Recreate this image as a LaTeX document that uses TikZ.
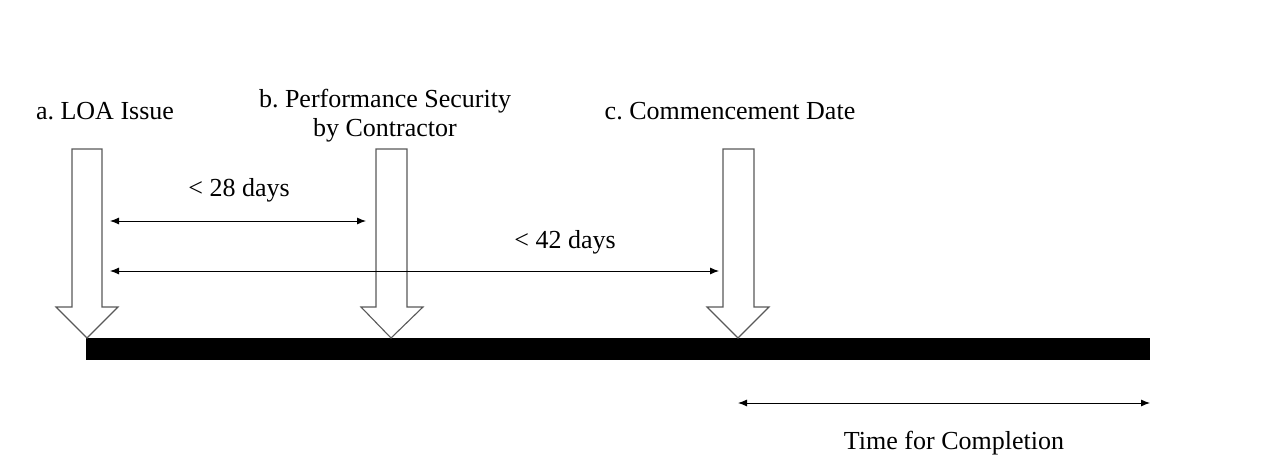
\documentclass[tikz,border=0pt]{standalone}
\usepackage{fontspec}
\setmainfont{Liberation Serif}
\usetikzlibrary{arrows.meta}
\begin{document}
\frenchspacing
\begin{tikzpicture}[x=1pt,y=-1pt,
  lbl/.style={font=\fontsize{26}{29}\selectfont, inner sep=0pt, align=center},
  blockarrow/.style={draw=black!65, line width=1.1pt, fill=white, line join=miter},
  span/.style={{Latex[length=9pt,width=7pt]}-{Latex[length=9pt,width=7pt]}, line width=0.9pt},
  timeline/.style={fill=black}]
\useasboundingbox (0,0) rectangle (1280,465);
% timeline bar
\fill[timeline] (86,338) rectangle (1150,360);
% downward block arrows
\draw[blockarrow] (72,149) -- (102,149) -- (102,307) -- (118,307) -- (87,338) -- (56,307) -- (72,307) -- cycle;
\draw[blockarrow] (376,149) -- (407,149) -- (407,307) -- (423,307) -- (391,338) -- (361,307) -- (376,307) -- cycle;
\draw[blockarrow] (723,149) -- (754,149) -- (754,307) -- (769,307) -- (738,338) -- (707,307) -- (723,307) -- cycle;
% milestone labels
\node[lbl] (la) at (105,111) {a. LOA Issue};
\node[lbl] (lb) at (385,116) {b. Performance Security\\by Contractor};
\node[lbl] (lc) at (730,111) {c. Commencement Date};
% interval end points
\coordinate (p28a) at (110,221);
\coordinate (p28b) at (366,221);
\coordinate (p42a) at (110,271);
\coordinate (p42b) at (719,271);
\coordinate (tfa) at (738,403);
\coordinate (tfb) at (1150,403);
% intervals
\draw[span] (p28a) -- (p28b);
\draw[span] (p42a) -- (p42b);
\draw[span] (tfa) -- (tfb);
\node[lbl] (t28) at (239,190) {< 28 days};
\node[lbl] (t42) at (565,242) {< 42 days};
\node[lbl] (ttf) at (954,443) {Time for Completion};
\end{tikzpicture}
\end{document}
